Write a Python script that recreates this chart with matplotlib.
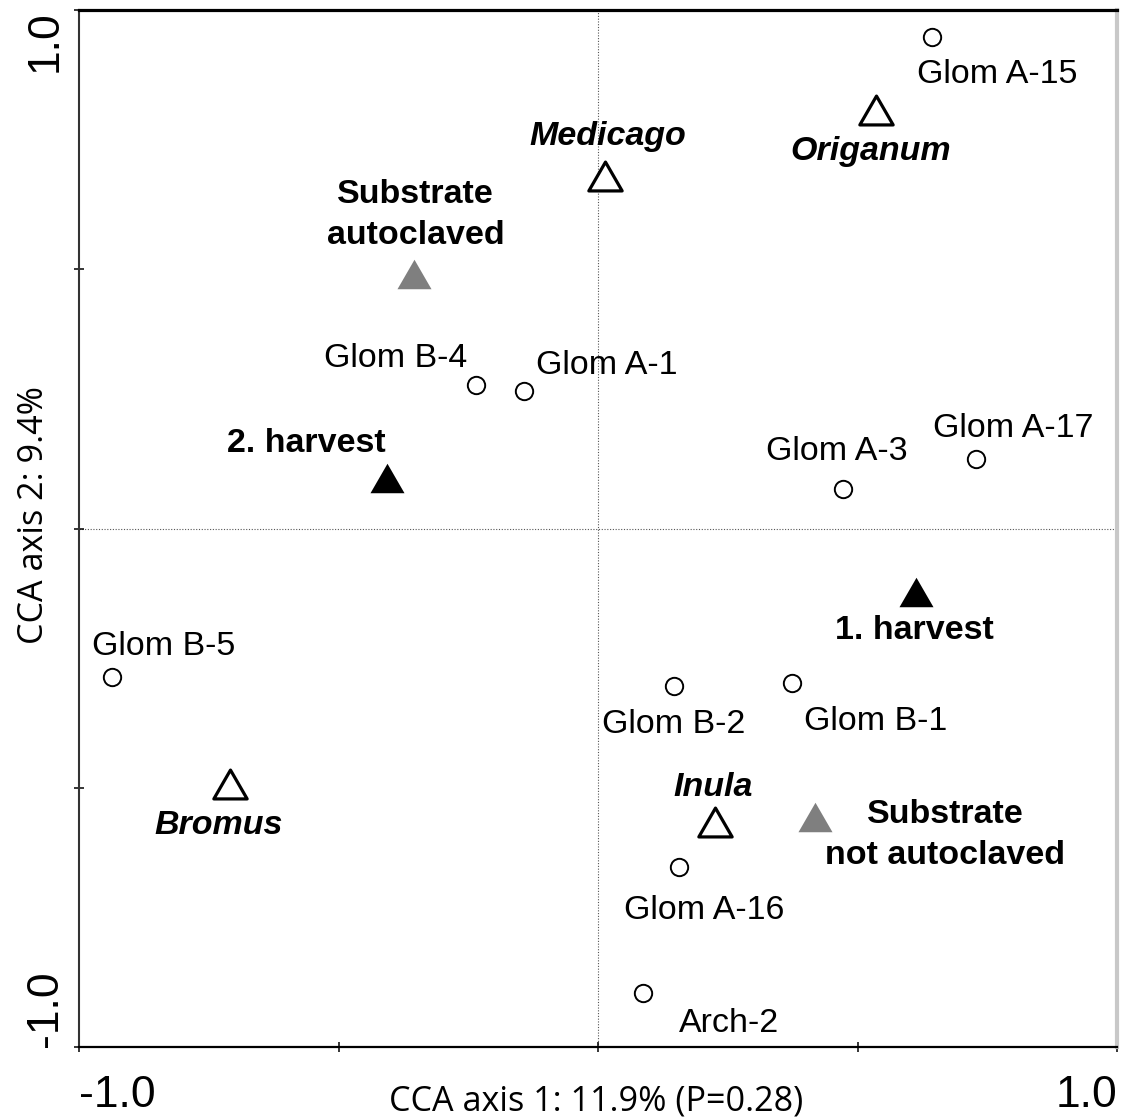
import matplotlib
matplotlib.use("Agg")
import matplotlib.pyplot as plt
from matplotlib.markers import MarkerStyle
from matplotlib.path import Path

# Species scores (circles)
species = ["Glom A-15", "Glom B-4", "Glom A-1", "Glom A-17", "Glom A-3",
           "Glom B-5", "Glom B-2", "Glom B-1", "Glom A-16", "Arch-2"]
species_x = [0.644, -0.235, -0.143, 0.728, 0.472, -0.936, 0.146, 0.374, 0.156, 0.087]
species_y = [0.948, 0.277, 0.265, 0.134, 0.076, -0.286, -0.304, -0.298, -0.653, -0.896]

# Environmental / treatment centroids (triangles)
env_names = ["Medicago", "Origanum", "Substrate\nautoclaved", "2. harvest",
             "1. harvest", "Bromus", "Inula", "Substrate\nnot autoclaved"]
env_x = [0.013, 0.536, -0.355, -0.407, 0.613, -0.709, 0.225, 0.418]
env_y = [0.680, 0.807, 0.491, 0.097, -0.122, -0.493, -0.566, -0.556]
env_kind = ["plant", "plant", "substrate", "harvest", "harvest", "plant", "plant", "substrate"]

axis1_label = "CCA axis 1: 11.9% (P=0.28)"
axis2_label = "CCA axis 2: 9.4%"
tick_values = [-1.0, -0.5, 0.0, 0.5, 1.0]
tick_labels = ["-1.0", "", "", "", "1.0"]

# Label offsets from each mark (pixels; last-line baseline, horizontally centred)
species_offsets = {
    "Glom A-15": (65, -46), "Glom B-4": (-80, 18), "Glom A-1": (83, 17),
    "Glom A-17": (37, 22), "Glom A-3": (-6, 29), "Glom B-5": (51, 22),
    "Glom B-2": (0, -47), "Glom B-1": (84, -47), "Glom A-16": (25, -52),
    "Arch-2": (86, -39),
}
env_offsets = {
    "Medicago": (3, 31), "Origanum": (-6, -50), "Substrate\nautoclaved": (2, 30),
    "2. harvest": (-80, 26), "1. harvest": (-2, -47), "Bromus": (-11, -50),
    "Inula": (-2, 26), "Substrate\nnot autoclaved": (130, -47),
}

kind_style = {
    "plant": dict(mfc="white", mec="black", mew=2.3, ms=24),
    "substrate": dict(mfc="#7f7f7f", mec="none", mew=0, ms=24.5),
    "harvest": dict(mfc="black", mec="none", mew=0, ms=24.5),
}

label_font = "Liberation Sans"

W, H, DPI = 1123, 1117, 100
fig = plt.figure(figsize=(W / DPI, H / DPI), dpi=DPI)
ax = fig.add_axes([79 / W, 1 - 1047 / H, (1117 - 79) / W, (1047 - 10) / H])
ax.set_xlim(-1, 1)
ax.set_ylim(-1, 1)

ax.axvline(0, color="#555555", lw=0.8, ls=(0, (1, 1.5)), zorder=1)
ax.axhline(0, color="#555555", lw=0.8, ls=(0, (1, 1.5)), zorder=1)

# Triangle marker slightly flatter than tall
tri = MarkerStyle(Path([(0, 0.866), (-1, -0.866), (1, -0.866), (0, 0.866)],
                       [Path.MOVETO, Path.LINETO, Path.LINETO, Path.CLOSEPOLY]),
                  joinstyle="miter")

ax.plot(species_x, species_y, ls="none", marker="o", ms=12.5, mfc="white",
        mec="black", mew=1.4, zorder=3)
for name, x, y in zip(species, species_x, species_y):
    dx, dy = species_offsets[name]
    ax.annotate(name, (x, y), xytext=(dx, dy), textcoords="offset pixels",
                ha="center", va="baseline", fontsize=24.5, family=label_font,
                zorder=4)

for name, x, y, kind in zip(env_names, env_x, env_y, env_kind):
    ax.plot([x], [y], ls="none", marker=tri, zorder=3, **kind_style[kind])
    dx, dy = env_offsets[name]
    ax.annotate(name, (x, y), xytext=(dx, dy), textcoords="offset pixels",
                ha="center", va="baseline", multialignment="center",
                fontsize=24.5, family=label_font, fontweight="bold",
                fontstyle="italic" if kind == "plant" else "normal",
                linespacing=1.4, zorder=4)

# Frame
ax.spines["top"].set_color("black")
ax.spines["top"].set_linewidth(2.3)
ax.spines["bottom"].set_color("black")
ax.spines["bottom"].set_linewidth(1.6)
ax.spines["left"].set_color("#333333")
ax.spines["left"].set_linewidth(1.5)
ax.spines["right"].set_color("#c8c8c8")
ax.spines["right"].set_linewidth(3)

ax.set_xticks(tick_values)
ax.set_xticklabels(tick_labels)
ax.set_yticks(tick_values)
ax.set_yticklabels(tick_labels, rotation=90)
ax.tick_params(direction="inout", length=7, width=1.1, labelsize=32,
               top=False, right=False)
ax.tick_params(axis="x", pad=17)
ax.tick_params(axis="y", pad=6)
for lab in ax.get_xticklabels() + ax.get_yticklabels():
    lab.set_family(label_font)
xl = ax.get_xticklabels()
xl[0].set_ha("left")
xl[-1].set_ha("right")
yl = ax.get_yticklabels()
yl[0].set_va("bottom")
yl[-1].set_va("top")
for lab in yl:
    lab.set_ha("right")

# Axis titles, scaled to their printed width
title_fonts = ["Liberation Sans Narrow", "Open Sans", "DejaVu Sans"]
xt = fig.text(596 / W, 1 - 1111 / H, axis1_label, ha="center", va="baseline",
              fontsize=28, family=title_fonts)
yt = fig.text(43 / W, 1 - 515 / H, axis2_label, ha="center", va="baseline",
              rotation=90, rotation_mode="anchor", fontsize=28, family=title_fonts)
renderer = fig.canvas.get_renderer()
w = xt.get_window_extent(renderer).width
new_size = 28 * 414 / w
xt.set_fontsize(new_size)
yt.set_fontsize(new_size)

fig.savefig("out.png", dpi=DPI)
